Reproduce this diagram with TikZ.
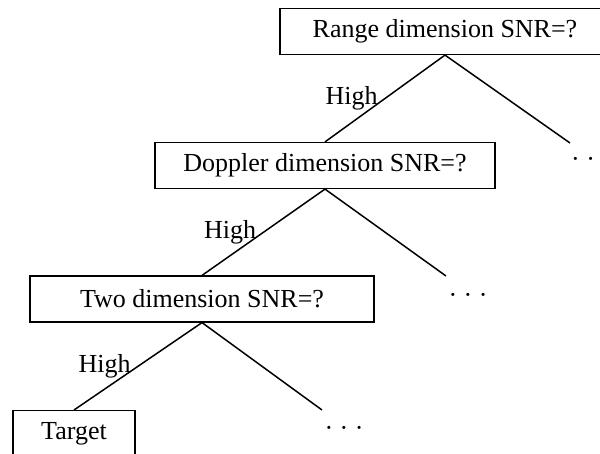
\documentclass[tikz,border=0pt]{standalone}
\usepackage{fontspec}
\setmainfont{Liberation Serif}
\tikzset{
  test/.style={draw, line width=0.6pt, inner sep=0pt, minimum height=23pt,
    font=\fontsize{13}{15}\selectfont},
  lbl/.style={font=\fontsize{13}{15}\selectfont},
  branch/.style={line width=0.75pt}
}
\newcommand{\moredots}{\textperiodcentered\ \textperiodcentered\ \textperiodcentered}
\begin{document}
\begin{tikzpicture}[x=0.5pt, y=-0.5pt]
    \useasboundingbox (0, 0) rectangle (600, 454) ;
    \node[test, minimum width=165pt] (range) at (445, 31.5) {Range dimension SNR=?} ;
    \node[test, minimum width=170pt] (doppler) at (325, 165.5) {Doppler dimension SNR=?} ;
    \node[test, minimum width=172pt] (two) at (202, 299) {Two dimension SNR=?} ;
    \node[test, minimum width=61pt, anchor=north] (target) at (74, 410) {Target} ;
    \coordinate (r1) at (570, 143) ;
    \coordinate (r2) at (446, 276) ;
    \coordinate (r3) at (322, 410) ;
    \node[lbl] (more1) at (590.7, 162) {\moredots} ;
    \node[lbl] (more2) at (468, 298) {\moredots} ;
    \node[lbl] (more3) at (344, 431) {\moredots} ;
    \draw[branch] (range.south) -- (doppler.north) node[midway, left, lbl] {High} ;
    \draw[branch] (range.south) -- (r1) ;
    \draw[branch] (doppler.south) -- (two.north) node[midway, left, lbl] {High} ;
    \draw[branch] (doppler.south) -- (r2) ;
    \draw[branch] (two.south) -- (target.north) node[midway, left, lbl] {High} ;
    \draw[branch] (two.south) -- (r3) ;
  \end{tikzpicture}
\end{document}
